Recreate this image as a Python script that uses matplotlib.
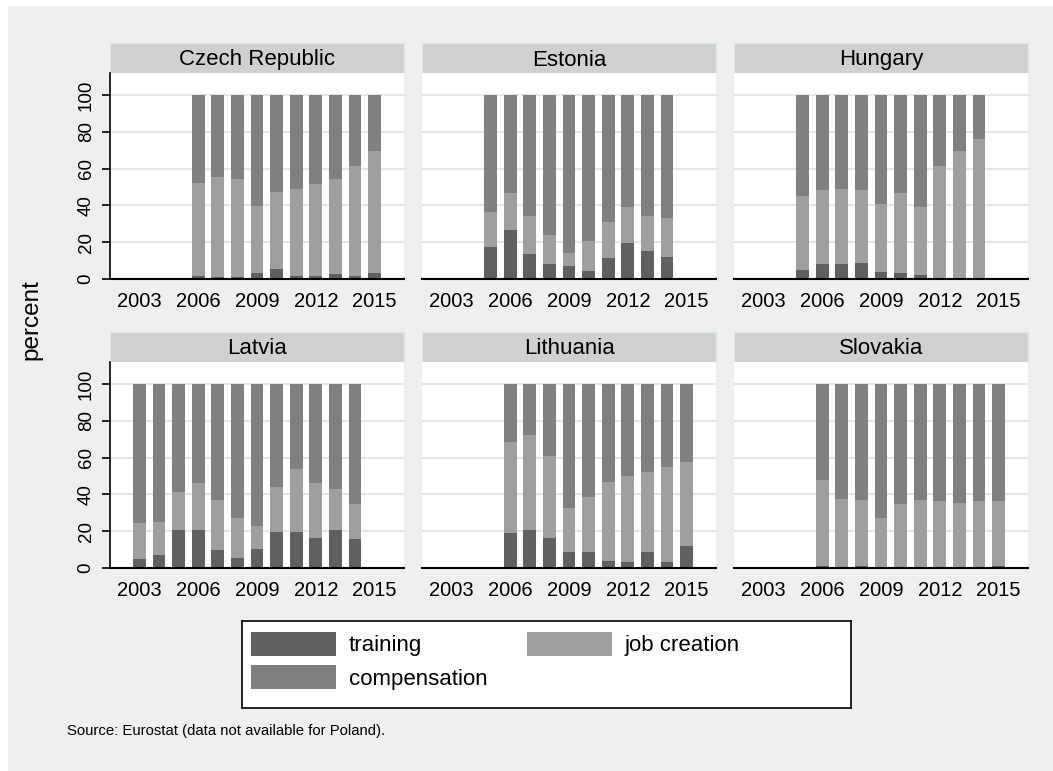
import matplotlib
matplotlib.use('Agg')
import matplotlib.pyplot as plt
from matplotlib.patches import Patch, Rectangle

plt.rcParams['font.family'] = ['Liberation Sans', 'DejaVu Sans']

# Datos por país (porcentajes)
countries = ['Czech Republic', 'Estonia', 'Hungary', 'Latvia', 'Lithuania', 'Slovakia']

years_cz = [2006, 2007, 2008, 2009, 2010, 2011, 2012, 2013, 2014, 2015]
training_cz = [1.6, 1.1, 1.1, 3.4, 5.6, 1.6, 1.6, 2.7, 1.6, 3.3]
jobs_cz = [50.6, 54.3, 53.2, 36.3, 41.7, 47.3, 50.0, 51.6, 59.8, 66.1]
comp_cz = [47.8, 44.6, 45.7, 60.3, 52.7, 51.1, 48.4, 45.7, 38.6, 30.6]

years_ee = [2005, 2006, 2007, 2008, 2009, 2010, 2011, 2012, 2013, 2014]
training_ee = [17.4, 26.6, 13.8, 8.3, 6.9, 4.5, 11.2, 19.4, 15.2, 11.8]
jobs_ee = [19.0, 20.3, 20.3, 15.4, 7.2, 16.0, 20.0, 19.7, 19.0, 21.4]
comp_ee = [63.6, 53.1, 65.9, 76.3, 85.9, 79.5, 68.8, 60.9, 65.8, 66.8]

years_hu = [2005, 2006, 2007, 2008, 2009, 2010, 2011, 2012, 2013, 2014]
training_hu = [4.9, 8.3, 8.0, 8.7, 4.0, 3.4, 2.0, 0.0, 0.0, 0.0]
jobs_hu = [40.4, 40.3, 41.1, 39.7, 36.8, 43.3, 36.9, 61.4, 69.6, 76.1]
comp_hu = [54.7, 51.4, 50.9, 51.6, 59.2, 53.3, 61.1, 38.6, 30.4, 23.9]

years_lv = [2003, 2004, 2005, 2006, 2007, 2008, 2009, 2010, 2011, 2012, 2013, 2014]
training_lv = [5.1, 6.9, 20.8, 20.7, 10.0, 5.4, 10.5, 19.4, 19.4, 16.1, 20.8, 15.8]
jobs_lv = [19.4, 18.3, 20.5, 25.7, 27.1, 21.8, 12.5, 24.6, 34.2, 30.3, 22.1, 18.8]
comp_lv = [75.5, 74.8, 58.7, 53.6, 62.9, 72.8, 77.0, 56.0, 46.4, 53.6, 57.1, 65.4]

years_lt = [2006, 2007, 2008, 2009, 2010, 2011, 2012, 2013, 2014, 2015]
training_lt = [18.8, 20.7, 16.3, 8.7, 8.9, 3.6, 3.4, 8.5, 3.1, 12.0]
jobs_lt = [49.7, 51.6, 44.4, 23.7, 29.7, 43.3, 46.6, 43.9, 52.0, 45.4]
comp_lt = [31.5, 27.7, 39.3, 67.6, 61.4, 53.1, 50.0, 47.6, 44.9, 42.6]

years_sk = [2006, 2007, 2008, 2009, 2010, 2011, 2012, 2013, 2014, 2015]
training_sk = [1.1, 0.4, 1.1, 0.5, 0.0, 0.0, 0.0, 0.0, 0.0, 1.3]
jobs_sk = [46.7, 37.3, 36.0, 26.5, 35.0, 37.0, 36.6, 35.1, 36.6, 35.3]
comp_sk = [52.2, 62.3, 62.9, 73.0, 65.0, 63.0, 63.4, 64.9, 63.4, 63.4]

x_ticks = [2003, 2006, 2009, 2012, 2015]
y_ticks = [0, 20, 40, 60, 80, 100]
series_names = ['training', 'job creation', 'compensation']

panel_data = [
    (years_cz, training_cz, jobs_cz, comp_cz),
    (years_ee, training_ee, jobs_ee, comp_ee),
    (years_hu, training_hu, jobs_hu, comp_hu),
    (years_lv, training_lv, jobs_lv, comp_lv),
    (years_lt, training_lt, jobs_lt, comp_lt),
    (years_sk, training_sk, jobs_sk, comp_sk),
]

c_train = '#606060'
c_jobs = '#9f9f9f'
c_comp = '#808080'
bg = '#efefef'

W, H = 1053, 771
fig = plt.figure(figsize=(W / 100, H / 100), dpi=100, facecolor='white')

# Fondo gris estilo Stata
fig.add_artist(Rectangle((8 / W, 0), 1 - 8 / W, 1 - 6 / H, transform=fig.transFigure,
                         facecolor=bg, edgecolor='none', zorder=-10))


def px_box(x0, y0, x1, y1):
    return [x0 / W, 1 - y1 / H, (x1 - x0) / W, (y1 - y0) / H]


lefts = [110, 422, 734]
pw = 294
rows = [(43, 73, 279), (332, 362, 568)]

for i, country in enumerate(countries):
    r, c = divmod(i, 3)
    s_top, p_top, p_bot = rows[r]
    x0 = lefts[c]

    # Cabecera del panel
    sax = fig.add_axes(px_box(x0, s_top, x0 + pw, p_top))
    sax.set_facecolor('#d0d0d0')
    for sp in sax.spines.values():
        sp.set_color('#dbe6ec')
        sp.set_linewidth(1)
    sax.set_xticks([])
    sax.set_yticks([])
    sax.text(0.5, 0.25, country, ha='center', va='baseline', fontsize=16,
             transform=sax.transAxes)

    ax = fig.add_axes(px_box(x0, p_top, x0 + pw, p_bot))
    years, tr, jb, cp = panel_data[i]
    bot2 = [a + b for a, b in zip(tr, jb)]
    ax.bar(years, tr, width=0.65, color=c_train, linewidth=0, zorder=3)
    ax.bar(years, jb, width=0.65, bottom=tr, color=c_jobs, linewidth=0, zorder=3)
    ax.bar(years, cp, width=0.65, bottom=bot2, color=c_comp, linewidth=0, zorder=3)

    ax.set_xlim(2001.5, 2016.5)
    ax.set_ylim(0, 112)
    ax.set_xticks(x_ticks)
    ax.set_yticks(y_ticks)
    ax.tick_params(axis='x', length=0, pad=9, labelsize=14.5)
    ax.grid(axis='y', color='#e6e6e6', linewidth=1.5, zorder=0)
    ax.set_axisbelow(True)
    for side in ['top', 'right']:
        ax.spines[side].set_visible(False)
    ax.spines['bottom'].set_linewidth(1.5)
    ax.spines['bottom'].set_zorder(5)
    if c == 0:
        ax.spines['left'].set_linewidth(1.2)
        ax.tick_params(axis='y', length=6, width=1.2, pad=5, labelsize=13.5)
        for lab in ax.get_yticklabels():
            lab.set_rotation(90)
            lab.set_va('center')
    else:
        ax.spines['left'].set_visible(False)
        ax.tick_params(axis='y', length=0, labelleft=False)

fig.text(31 / W, 1 - 320 / H, 'percent', rotation=90, ha='center', va='center', fontsize=17.5)

# Leyenda
lax = fig.add_axes(px_box(242, 621, 851, 708))
lax.set_facecolor('white')
lax.set_xticks([])
lax.set_yticks([])
for sp in lax.spines.values():
    sp.set_color('black')
    sp.set_linewidth(1.2)
handles = [Patch(facecolor=c_train), Patch(facecolor=c_comp), Patch(facecolor=c_jobs)]
labels = [series_names[0], series_names[2], series_names[1]]
fs = 16
fs_px = fs * 100 / 72
lax.legend(handles, labels, ncol=2, loc='upper left',
           bbox_to_anchor=(9 / 609, 1 - 11 / 87), frameon=False, fontsize=fs,
           borderpad=0, borderaxespad=0,
           handlelength=85 / fs_px, handleheight=28 / fs_px,
           handletextpad=13 / fs_px, columnspacing=39 / fs_px, labelspacing=9 / fs_px)

fig.text(67 / W, 1 - 731 / H, 'Source: Eurostat (data not available for Poland).',
         ha='left', va='center', fontsize=10.7)

plt.savefig('out.png', dpi=100, facecolor='white')
